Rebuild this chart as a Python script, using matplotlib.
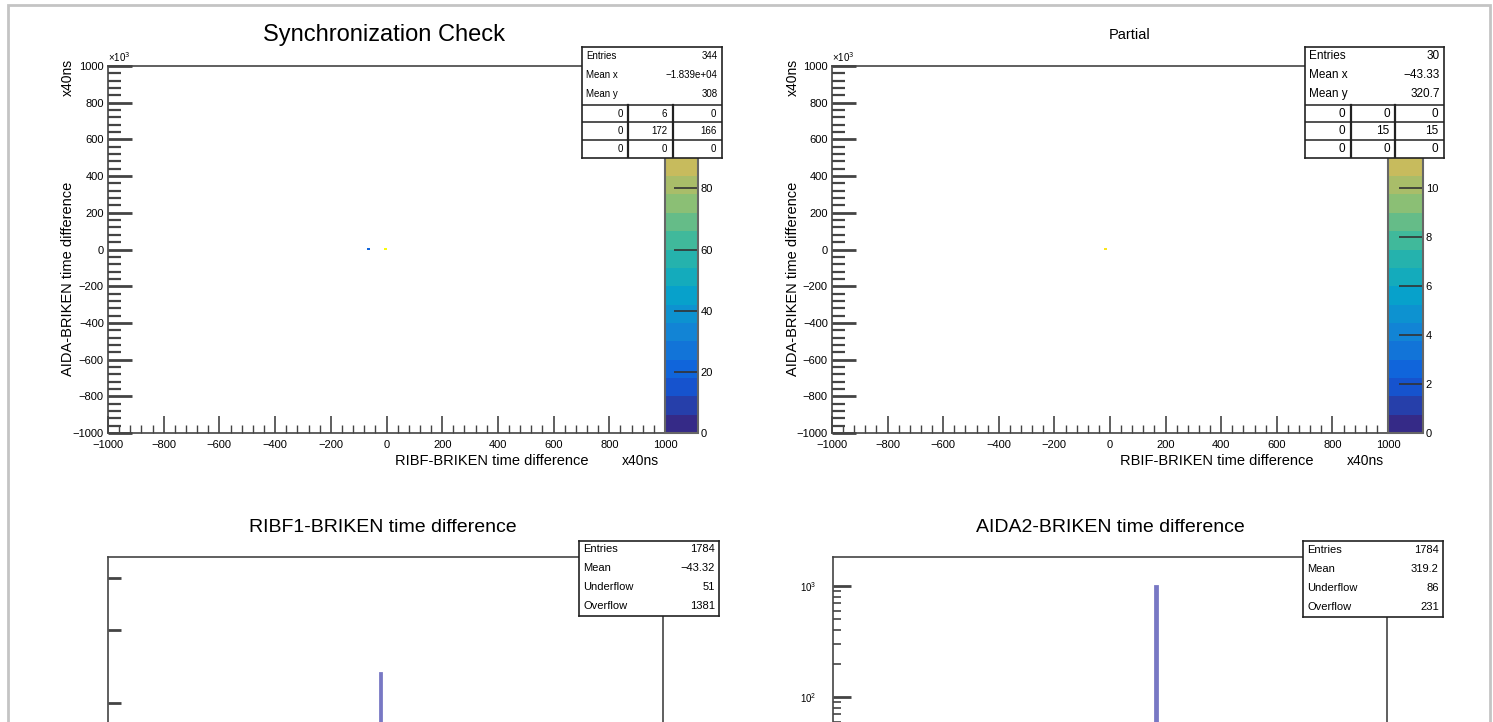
#ROOT canvas recreation: sync check 2D histograms on top, 1D time differences below
import numpy as np
import matplotlib
matplotlib.use("Agg")
import matplotlib.pyplot as plt
from matplotlib.colors import LinearSegmentedColormap, BoundaryNorm
from matplotlib.cm import ScalarMappable
from matplotlib.ticker import MultipleLocator, FixedLocator, NullFormatter, LogLocator
from matplotlib.patches import Rectangle

plt.rcParams['font.family'] = ['Liberation Sans', 'DejaVu Sans']

W, H = 1493, 722

#data
sync_x = [-66, -5]
sync_y = [0, 0]
sync_counts = [22, 114]
sync_zmax = 120

partial_x = [-11]
partial_y = [0]
partial_counts = [14]
partial_zmax = 15

ribf_x = [-20]
ribf_counts = [236]
aida_x = [164]
aida_counts = [1000]

sync_stats = [("Entries", "344"), ("Mean x", "\u22121.839e+04"), ("Mean y", "308")]
sync_table = [["0", "6", "0"], ["0", "172", "166"], ["0", "0", "0"]]
partial_stats = [("Entries", "30"), ("Mean x", "\u221243.33"), ("Mean y", "320.7")]
partial_table = [["0", "0", "0"], ["0", "15", "15"], ["0", "0", "0"]]
ribf_stats = [("Entries", "1784"), ("Mean", "\u221243.32"), ("Underflow", "51"), ("Overflow", "1381")]
aida_stats = [("Entries", "1784"), ("Mean", "319.2"), ("Underflow", "86"), ("Overflow", "231")]

#ROOT kBird palette
bird_r = [0.2082, 0.0592, 0.0780, 0.0232, 0.1802, 0.5301, 0.8186, 0.9956, 0.9764]
bird_g = [0.1664, 0.3599, 0.5041, 0.6419, 0.7178, 0.7492, 0.7328, 0.7862, 0.9832]
bird_b = [0.5293, 0.8684, 0.8385, 0.7914, 0.6425, 0.4662, 0.3499, 0.1968, 0.0539]
bird = LinearSegmentedColormap.from_list("bird", list(zip(bird_r, bird_g, bird_b)))

LINE = "#444444"
HISTC = "#7878c4"
BOX = "#222222"


def px_axes(fig, x0, y0, x1, y1, **kw):
    return fig.add_axes([x0 / W, 1 - y1 / H, (x1 - x0) / W, (y1 - y0) / H], **kw)


def ftext(fig, x, y, s, **kw):
    return fig.text(x / W, 1 - y / H, s, **kw)


def style_frame(ax):
    for s in ax.spines.values():
        s.set_color(LINE)
        s.set_linewidth(1.2)
    ax.tick_params(which='both', direction='in', top=False, right=False,
                   color=LINE, labelsize=8)


def stats_box(fig, x0, y0, x1, y1, rows, table=None, fs=8):
    sb = px_axes(fig, x0, y0, x1, y1, zorder=10)
    sb.set_xlim(0, 1)
    sb.set_ylim(0, 1)
    sb.set_xticks([])
    sb.set_yticks([])
    for s in sb.spines.values():
        s.set_color(BOX)
        s.set_linewidth(1.2)
    h = y1 - y0
    top_h = h * (0.52 if table else 1.0)
    step = top_h / len(rows)
    for i, (lab, val) in enumerate(rows):
        yc = 1 - (step * (i + 0.45)) / h
        sb.text(0.03, yc, lab, fontsize=fs, va='center', ha='left')
        sb.text(0.97, yc, val, fontsize=fs, va='center', ha='right')
    if table:
        ty = 1 - top_h / h
        rstep = ty / 3
        for k in range(3):
            sb.plot([0, 1], [ty - k * rstep] * 2, color=BOX, lw=1.1)
        cols = [0, 0.33, 0.65, 1.0]
        for c in cols[1:3]:
            sb.plot([c, c], [0, ty], color=BOX, lw=1.6)
        for r, row in enumerate(table):
            yc = ty - (r + 0.5) * rstep
            for c, val in enumerate(row):
                sb.text(cols[c + 1] - 0.04, yc, val, fontsize=fs, va='center', ha='right')
    return sb


def draw_2d(fig, frame, cbar, xs, ys, cs, zmax, zticks):
    ax = px_axes(fig, *frame)
    edges = np.linspace(-1000, 1000, 201)
    counts, xe, ye = np.histogram2d(xs, ys, bins=[edges, edges], weights=cs)
    levels = np.linspace(0, zmax, 21)
    norm = BoundaryNorm(levels, bird.N)
    ax.pcolormesh(xe, ye, np.ma.masked_equal(counts.T, 0), cmap=bird, norm=norm)
    ax.set_xlim(-1000, 1000)
    ax.set_ylim(-1000, 1000)
    ax.xaxis.set_major_locator(MultipleLocator(200))
    ax.xaxis.set_minor_locator(MultipleLocator(40))
    ax.yaxis.set_major_locator(MultipleLocator(200))
    ax.yaxis.set_minor_locator(MultipleLocator(40))
    style_frame(ax)
    ax.tick_params(axis='x', which='major', length=12, width=1.2, pad=5)
    ax.tick_params(axis='x', which='minor', length=6, width=1.0)
    ax.tick_params(axis='y', which='major', length=17, width=2.0, pad=3)
    ax.tick_params(axis='y', which='minor', length=9, width=1.6)

    #palette axis, the upper labels sit under the stats box anyway
    cax = px_axes(fig, *cbar)
    cb = fig.colorbar(ScalarMappable(norm=norm, cmap=bird), cax=cax, ticks=zticks)
    cb.outline.set_edgecolor("#666666")
    cb.outline.set_linewidth(1.5)
    cax.tick_params(direction='in', length=17, width=1.2, labelsize=8, pad=2, color="#333333")
    cax.yaxis.set_minor_locator(FixedLocator([]))
    return ax


def draw_1d(fig, frame, xs, cs, ylim):
    ax = px_axes(fig, *frame)
    edges = np.linspace(-1000, 1000, 501)
    counts, _ = np.histogram(xs, bins=edges, weights=cs)
    ax.set_yscale('log')
    ax.stairs(counts, edges, color=HISTC, lw=2.0)
    ax.set_xlim(-1000, 1000)
    ax.set_ylim(*ylim)
    style_frame(ax)
    return ax


fig = plt.figure(figsize=(W / 100, H / 100), dpi=100)

#canvas border
fig.add_artist(Rectangle((8 / W, -0.1), (1490 - 8) / W, 1.1 - 5 / H, transform=fig.transFigure,
                         fill=False, edgecolor="#c4c4c4", lw=2))

#top left: Synchronization Check
ax1 = draw_2d(fig, (108, 66, 665, 433), (665, 66, 698, 433),
              sync_x, sync_y, sync_counts, sync_zmax, [0, 20, 40, 60, 80])
ftext(fig, 384, 35, "Synchronization Check", fontsize=17, ha='center', va='center')
ftext(fig, 492, 461, "RIBF-BRIKEN time difference", fontsize=10.5, ha='center', va='center')
ftext(fig, 640, 461, "x40ns", fontsize=10, ha='center', va='center')
ftext(fig, 68, 376, "AIDA-BRIKEN time difference", fontsize=10.5, rotation=90, ha='center', va='bottom')
ftext(fig, 68, 77, "x40ns", fontsize=10, rotation=90, ha='center', va='center')
ftext(fig, 108, 64, "\u00d710$^3$", fontsize=7, ha='left', va='bottom')
stats_box(fig, 582, 47, 722, 158, sync_stats, sync_table, fs=7)

#top right: Partial
ax2 = draw_2d(fig, (832, 66, 1388, 433), (1388, 66, 1423, 433),
              partial_x, partial_y, partial_counts, partial_zmax, [0, 2, 4, 6, 8, 10])
ftext(fig, 1130, 35, "Partial", fontsize=10.5, ha='center', va='center')
ftext(fig, 1217, 461, "RBIF-BRIKEN time difference", fontsize=10.5, ha='center', va='center')
ftext(fig, 1365, 461, "x40ns", fontsize=10, ha='center', va='center')
ftext(fig, 793, 376, "AIDA-BRIKEN time difference", fontsize=10.5, rotation=90, ha='center', va='bottom')
ftext(fig, 793, 77, "x40ns", fontsize=10, rotation=90, ha='center', va='center')
ftext(fig, 832, 64, "\u00d710$^3$", fontsize=7, ha='left', va='bottom')
stats_box(fig, 1305, 47, 1444, 158, partial_stats, partial_table, fs=8.5)

#bottom left: RIBF1-BRIKEN time difference (log y, range under a decade)
ax3 = draw_1d(fig, (108, 557, 663, 900), ribf_x, ribf_counts, (67, 449))
ax3.yaxis.set_major_locator(FixedLocator([200, 300, 400]))
ax3.yaxis.set_minor_locator(FixedLocator([]))
ax3.yaxis.set_major_formatter(NullFormatter())
ax3.yaxis.set_minor_formatter(NullFormatter())
ax3.tick_params(axis='y', which='major', length=9, width=2.0)
ax3.set_xticks([])
ftext(fig, 383, 527, "RIBF1-BRIKEN time difference", fontsize=14, ha='center', va='center')
stats_box(fig, 579, 541, 719, 616, ribf_stats, fs=8)

#bottom right: AIDA2-BRIKEN time difference
ax4 = draw_1d(fig, (833, 557, 1387, 900), aida_x, aida_counts, (1.48, 1824))
ax4.yaxis.set_major_locator(FixedLocator([100, 1000]))
ax4.yaxis.set_minor_locator(LogLocator(base=10, subs=np.arange(2, 10), numticks=10))
ax4.yaxis.set_minor_formatter(NullFormatter())
ax4.tick_params(axis='y', which='major', length=13, width=2.0, pad=12, labelsize=7)
ax4.tick_params(axis='y', which='minor', length=6, width=1.2)
ax4.set_xticks([])
ftext(fig, 1110, 527, "AIDA2-BRIKEN time difference", fontsize=14, ha='center', va='center')
stats_box(fig, 1303, 541, 1443, 617, aida_stats, fs=8)

fig.savefig("out.png", dpi=100)
